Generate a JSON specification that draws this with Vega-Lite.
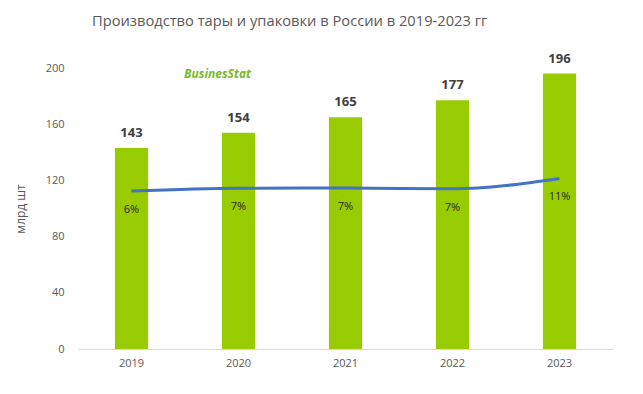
{
  "$schema": "https://vega.github.io/schema/vega-lite/v6.json",
  "autosize": {"type": "none"},
  "width": 535,
  "height": 281,
  "padding": {"left": 78, "top": 68, "right": 30, "bottom": 45},
  "background": "white",
  "title": {
    "text": "Производство тары и упаковки в России в 2019-2023 гг",
    "anchor": "start",
    "frame": "group",
    "dx": 14,
    "offset": 24,
    "fontSize": 14.7,
    "font": "Open Sans",
    "fontWeight": "normal",
    "color": "#595959"
  },
  "config": {
    "view": {"stroke": null},
    "font": "Open Sans"
  },
  "data": {
    "values": [
      {"year": "2019", "value": 143, "growth": 6.2, "glabel": "6%"},
      {"year": "2020", "value": 154, "growth": 7.2, "glabel": "7%"},
      {"year": "2021", "value": 165, "growth": 7.3, "glabel": "7%"},
      {"year": "2022", "value": 177, "growth": 7.0, "glabel": "7%"},
      {"year": "2023", "value": 196, "growth": 10.7, "glabel": "11%"}
    ]
  },
  "encoding": {
    "x": {
      "field": "year",
      "type": "ordinal",
      "scale": {"paddingInner": 0.69, "paddingOuter": 0.345},
      "axis": {
        "title": null,
        "labelAngle": 0,
        "labelColor": "#595959",
        "labelFontSize": 11,
        "labelPadding": 8,
        "ticks": false,
        "domainColor": "#d9d9d9",
        "domainWidth": 1
      }
    }
  },
  "layer": [
    {
      "layer": [
        {
          "mark": {"type": "bar", "color": "#99cc00"},
          "encoding": {
            "y": {
              "field": "value",
              "type": "quantitative",
              "scale": {"domain": [0, 200]},
              "axis": {
                "title": "млрд шт",
                "titleFontSize": 12,
                "titleFontWeight": "normal",
                "titleColor": "#595959",
                "titlePadding": 18,
                "values": [0, 40, 80, 120, 160, 200],
                "labelColor": "#595959",
                "labelFontSize": 11,
                "labelPadding": 14,
                "ticks": false,
                "domain": false,
                "grid": false
              }
            }
          }
        },
        {
          "mark": {"type": "text", "dy": -15, "fontWeight": "bold", "fontSize": 13, "color": "#404040"},
          "encoding": {
            "y": {"field": "value", "type": "quantitative"},
            "text": {"field": "value", "type": "quantitative"}
          }
        },
        {
          "data": {"values": [{"logo": "BusinesStat"}]},
          "mark": {"type": "text", "fontStyle": "italic", "fontWeight": "bold", "fontSize": 12, "color": "#7ab72b", "dx": -21},
          "encoding": {
            "x": {"datum": "2020"},
            "y": {"datum": 196},
            "text": {"field": "logo"}
          }
        }
      ]
    },
    {
      "layer": [
        {
          "mark": {"type": "line", "color": "#4472c4", "strokeWidth": 3, "interpolate": "monotone"},
          "encoding": {
            "y": {
              "field": "growth",
              "type": "quantitative",
              "scale": {"domain": [-48.3, 48.9]},
              "axis": null
            }
          }
        },
        {
          "mark": {"type": "text", "dy": 19, "fontSize": 11, "color": "#262626"},
          "encoding": {
            "y": {"field": "growth", "type": "quantitative"},
            "text": {"field": "glabel"}
          }
        }
      ]
    }
  ],
  "resolve": {"scale": {"y": "independent"}}
}
